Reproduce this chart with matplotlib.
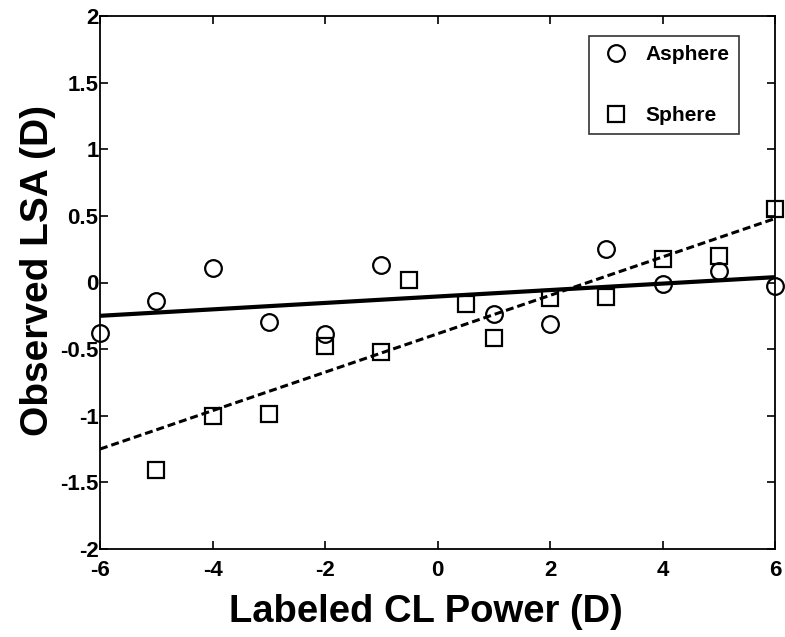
import numpy as np
import matplotlib
matplotlib.use("Agg")
import matplotlib.pyplot as plt

plt.rcParams['font.family'] = ['Liberation Sans', 'DejaVu Sans']

# Asphere data (circles)
asphere_x = [-6, -5, -4, -3, -2, -1, 1, 2, 3, 4, 5, 6]
asphere_y = [-0.38, -0.14, 0.11, -0.30, -0.39, 0.13, -0.24, -0.31, 0.25, -0.01, 0.09, -0.03]

# Sphere data (squares)
sphere_x = [-5, -4, -3, -2, -1, -0.5, 0.5, 1, 2, 3, 4, 5, 6]
sphere_y = [-1.41, -1.00, -0.99, -0.48, -0.52, 0.02, -0.16, -0.42, -0.12, -0.11, 0.18, 0.20, 0.55]

# regression line end points
fit_x = [-6, 6]
asphere_fit = [-0.25, 0.04]
sphere_fit = [-1.25, 0.48]

xticks = [-6, -4, -2, 0, 2, 4, 6]
yticks = [-2, -1.5, -1, -0.5, 0, 0.5, 1, 1.5, 2]
ytick_labels = ['-2', '-1.5', '-1', '-0.5', '0', '0.5', '1', '1.5', '2']

fig = plt.figure(figsize=(7.85, 6.37), dpi=100)
ax = fig.add_axes([100/785, 88/637, 675/785, 533/637])

ax.plot(fit_x, asphere_fit, color='black', lw=3.0, solid_capstyle='butt')
ax.plot(fit_x, sphere_fit, color='black', lw=2.2, ls=(0, (2.6, 1.3)))

ax.plot(asphere_x, asphere_y, 'o', ms=12, mfc='none', mec='black', mew=1.6,
        ls='none', label='Asphere', clip_on=False)
ax.plot(sphere_x, sphere_y, 's', ms=11, mfc='none', mec='black', mew=1.6,
        ls='none', label='Sphere', clip_on=False)

ax.set_xlim(-6, 6)
ax.set_ylim(-2, 2)
ax.set_xticks(xticks)
ax.set_xticklabels([str(t) for t in xticks])
ax.set_yticks(yticks)
ax.set_yticklabels(ytick_labels)

ax.tick_params(direction='in', length=6, width=1.2, top=True, right=True,
               labelsize=16)
ax.tick_params(axis='y', pad=1)
ax.tick_params(axis='x', pad=8)
for lab in ax.get_xticklabels() + ax.get_yticklabels():
    lab.set_fontweight('bold')
for sp in ax.spines.values():
    sp.set_linewidth(1.3)

ax.set_xlabel('Labeled CL Power (D)', fontsize=27.5, fontweight='bold')
ax.set_ylabel('Observed LSA (D)', fontsize=28, fontweight='bold')
ax.xaxis.set_label_coords((426 - 100) / 675, -(594 - 549) / 533)
ax.yaxis.set_label_coords(-(100 - 56) / 675, (549 - 270) / 533)

leg = ax.legend(loc='upper right', bbox_to_anchor=((739 - 100) / 675, (549 - 36) / 533),
                prop={'weight': 'bold', 'size': 15}, frameon=True, fancybox=False,
                edgecolor='black', borderpad=0.45, labelspacing=2.0,
                handlelength=1.7, handletextpad=0.55, borderaxespad=0)
leg.get_frame().set_linewidth(1.2)

fig.savefig('out.png', dpi=100)
